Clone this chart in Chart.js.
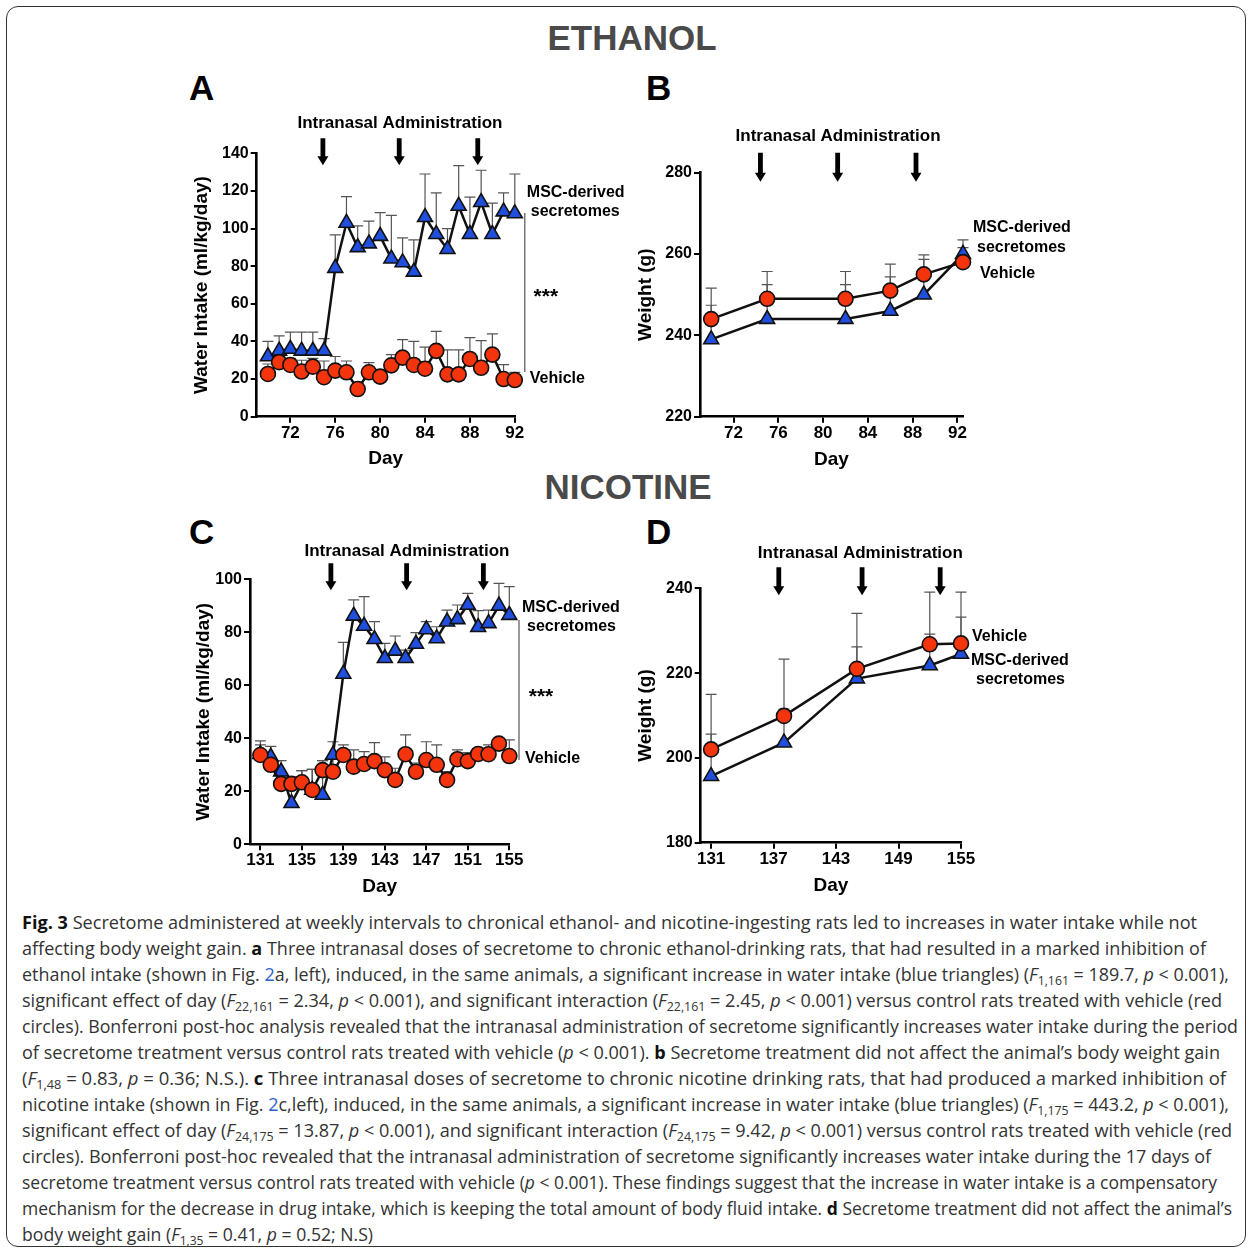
<!DOCTYPE html>
<html>
<head>
<meta charset="utf-8">
<script src="https://cdn.jsdelivr.net/npm/chart.js@4.4.1/dist/chart.umd.min.js"></script>
<style>
  html, body { margin:0; padding:0; background:#fff; }
  body { width:1250px; height:1251px; position:relative; overflow:hidden; font-family:"Liberation Sans", Arial, sans-serif; }
  .frame { position:absolute; left:6px; top:6px; width:1238px; height:1239px; border:1.5px solid #333; border-radius:12px; }
  .cv { position:absolute; }
  .big { position:absolute; font-weight:bold; color:#4a4a4a; font-size:35px; line-height:40px; text-align:center; width:600px; }
  .letter { position:absolute; font-weight:bold; color:#000; font-size:35px; line-height:40px; }
  .cap { position:absolute; left:22px; white-space:nowrap; font-family:"Open Sans", sans-serif; font-size:17.5px; line-height:26px; color:#333; transform-origin:0 50%; }
  .cap a { color:#2a62c9; text-decoration:none; }
  .cap sub { font-size:12px; vertical-align:-4px; line-height:0; }
  .cap b { font-weight:bold; color:#111; }
</style>
</head>
<body>
<div class="frame"></div>
<div class="big" style="left:332px;top:18px;">ETHANOL</div>
<div class="big" style="left:328px;top:467px;">NICOTINE</div>
<div class="letter" style="left:189px;top:68px;">A</div>
<div class="letter" style="left:646px;top:68px;">B</div>
<div class="letter" style="left:189px;top:512px;">C</div>
<div class="letter" style="left:646px;top:512px;">D</div>

<canvas id="cA" class="cv" style="left:186px;top:105px;" width="454" height="369"></canvas>
<canvas id="cB" class="cv" style="left:630px;top:115px;" width="460" height="360"></canvas>
<canvas id="cC" class="cv" style="left:188px;top:535px;" width="447" height="367"></canvas>
<canvas id="cD" class="cv" style="left:630px;top:535px;" width="460" height="366"></canvas>

<div id="caption">
<div class="cap" style="top:909px"><b>Fig. 3</b> Secretome administered at weekly intervals to chronical ethanol- and nicotine-ingesting rats led to increases in water intake while not</div>
<div class="cap" style="top:935px">affecting body weight gain. <b>a</b> Three intranasal doses of secretome to chronic ethanol-drinking rats, that had resulted in a marked inhibition of</div>
<div class="cap" style="top:961px">ethanol intake (shown in Fig. <a>2</a>a, left), induced, in the same animals, a significant increase in water intake (blue triangles) (<i>F</i><sub>1,161</sub> = 189.7, <i>p</i> &lt; 0.001),</div>
<div class="cap" style="top:987px">significant effect of day (<i>F</i><sub>22,161</sub> = 2.34, <i>p</i> &lt; 0.001), and significant interaction (<i>F</i><sub>22,161</sub> = 2.45, <i>p</i> &lt; 0.001) versus control rats treated with vehicle (red</div>
<div class="cap" style="top:1013px">circles). Bonferroni post-hoc analysis revealed that the intranasal administration of secretome significantly increases water intake during the period</div>
<div class="cap" style="top:1039px">of secretome treatment versus control rats treated with vehicle (<i>p</i> &lt; 0.001). <b>b</b> Secretome treatment did not affect the animal’s body weight gain</div>
<div class="cap" style="top:1065px">(<i>F</i><sub>1,48</sub> = 0.83, <i>p</i> = 0.36; N.S.). <b>c</b> Three intranasal doses of secretome to chronic nicotine drinking rats, that had produced a marked inhibition of</div>
<div class="cap" style="top:1091px">nicotine intake (shown in Fig. <a>2</a>c,left), induced, in the same animals, a significant increase in water intake (blue triangles) (<i>F</i><sub>1,175</sub> = 443.2, <i>p</i> &lt; 0.001),</div>
<div class="cap" style="top:1117px">significant effect of day (<i>F</i><sub>24,175</sub> = 13.87, <i>p</i> &lt; 0.001), and significant interaction (<i>F</i><sub>24,175</sub> = 9.42, <i>p</i> &lt; 0.001) versus control rats treated with vehicle (red</div>
<div class="cap" style="top:1143px">circles). Bonferroni post-hoc revealed that the intranasal administration of secretome significantly increases water intake during the 17 days of</div>
<div class="cap" style="top:1169px">secretome treatment versus control rats treated with vehicle (<i>p</i> &lt; 0.001). These findings suggest that the increase in water intake is a compensatory</div>
<div class="cap" style="top:1195px">mechanism for the decrease in drug intake, which is keeping the total amount of body fluid intake. <b>d</b> Secretome treatment did not affect the animal’s</div>
<div class="cap" style="top:1221px">body weight gain (<i>F</i><sub>1,35</sub> = 0.41, <i>p</i> = 0.52; N.S)</div>
</div>

<script>
// ---------------- DATA ----------------
// Panel A: ethanol, water intake
const ethWaterDays   = [70,71,72,73,74,75,76,77,78,79,80,81,82,83,84,85,86,87,88,89,90,91,92];
const ethWaterMSC    = [32,35,36,35,35,35,79,103,90,92,96,84,82,77,106,97,89,112,97,114,97,109,108];
const ethWaterMSCUp  = [40,43,45,45,45,41.5,96.6,117,101.4,104,108.5,107,95,94,129,119,100,133.5,116.7,131,113.5,119,129];
const ethWaterVeh    = [22.7,29,27.5,24,26.6,21,24.5,23.6,14.7,23.6,21.3,27.3,31.4,27.5,25.5,35,22.5,22.5,30.7,26,33,20,19.5];
const ethWaterVehUp  = [28,33,31,30,31,29.6,32,29.6,18,28.7,25,33,41,40,37,45.4,35.5,35.5,42,40.4,44,27.7,23.6];
const ethWaterXTicks = [72,76,80,84,88,92];
const ethWaterYTicks = [0,20,40,60,80,100,120,140];
const ethAdminDaysA  = [74.9,81.7,88.7];

// Panel B: ethanol, body weight
const ethWeightDays   = [70,75,82,86,89,92.5];
const ethWeightVeh    = [244,249,249,251,255,258];
const ethWeightVehUp  = [251.6,255.7,255.7,257.5,259.8,261.6];
const ethWeightMSC    = [239,244,244,246,250,260];
const ethWeightMSCUp  = [247.4,252.5,252.5,254.4,258.7,263.5];
const ethWeightXTicks = [72,76,80,84,88,92];
const ethWeightYTicks = [220,240,260,280];
const ethAdminDaysB   = [74.4,81.3,88.3];

// Panel C: nicotine, water intake
const nicWaterDays   = [131,132,133,134,135,136,137,138,139,140,141,142,143,144,145,146,147,148,149,150,151,152,153,154,155];
const nicWaterMSC    = [34,33,27.4,15.5,23,20.5,18.6,33.7,64.3,86.2,82.4,77.4,70.2,73,70.2,75.6,81.1,77.7,84,84.9,90.3,81.9,83.4,90,86.5];
const nicWaterMSCUp  = [39,37,31.6,22,27.8,28.3,31.6,38.7,76.2,92.2,93.5,84,75.8,78.6,73.3,79.9,84,82.1,88.4,90.3,94.7,88.2,88.4,98.5,97.2];
const nicWaterVeh    = [33.7,30,22.8,22.8,23.4,20.5,28,27.4,33.7,29.3,30.3,31.4,28,24.3,34,27.4,31.8,30,24.3,32.1,31.4,34.1,34,38,33.3];
const nicWaterVehUp  = [37.5,36.9,26,25.5,27.8,28.3,31.6,32,37.5,35.6,35,38.4,33,28.7,41.3,30.6,38.7,37.5,27.4,35.6,34.6,35,37.5,39.1,39.4];
const nicWaterXTicks = [131,135,139,143,147,151,155];
const nicWaterYTicks = [0,20,40,60,80,100];
const nicAdminDaysC  = [137.8,145.1,152.5];

// Panel D: nicotine, body weight
const nicWeightDays   = [131,138,145,152,155];
const nicWeightVeh    = [202,209.9,221,226.8,227];
const nicWeightVehUp  = [215,223.3,234.1,239.1,239.1];
const nicWeightMSC    = [195.7,203.6,218.7,221.8,224.5];
const nicWeightMSCUp  = [205.6,211.5,226.2,229.2,233.2];
const nicWeightXTicks = [131,137,143,149,155];
const nicWeightYTicks = [180,200,220,240];
const nicAdminDaysD   = [137.5,145.5,153.0];

// ---------------- STYLE ----------------
const FONT = '"Liberation Sans", Arial, sans-serif';
const RED = '#f4340c';
const BLUE = '#1f4fdc';
Chart.defaults.font.family = FONT;
Chart.defaults.color = '#000';

const pts = (xs, ys) => xs.map((x, i) => ({x: x, y: ys[i]}));

// error bars drawn behind markers
const errorBarPlugin = {
  id: 'errorBars',
  beforeDatasetsDraw(chart) {
    const ctx = chart.ctx, xs = chart.scales.x, ys = chart.scales.y;
    ctx.save();
    ctx.strokeStyle = '#555';
    ctx.lineWidth = 1.2;
    chart.data.datasets.forEach(ds => {
      if (!ds.upper) return;
      ds.data.forEach((p, i) => {
        const px = xs.getPixelForValue(p.x);
        const y0 = ys.getPixelForValue(p.y);
        const y1 = ys.getPixelForValue(ds.upper[i]);
        ctx.beginPath();
        ctx.moveTo(px, y0); ctx.lineTo(px, y1);
        ctx.moveTo(px - 5.5, y1); ctx.lineTo(px + 5.5, y1);
        ctx.stroke();
      });
    });
    ctx.restore();
  }
};

function notesPlugin(n) {
  return {
    id: 'notes',
    afterDraw(chart) {
      const ctx = chart.ctx, xs = chart.scales.x, ys = chart.scales.y, ca = chart.chartArea;
      ctx.save();
      const mean = n.arrows.reduce((a, b) => a + b, 0) / n.arrows.length;
      ctx.fillStyle = '#000';
      ctx.font = 'bold 17px ' + FONT;
      ctx.textAlign = 'center';
      ctx.textBaseline = 'middle';
      ctx.fillText('Intranasal Administration', xs.getPixelForValue(mean), ca.top + n.headY);
      n.arrows.forEach(d => {
        const x = xs.getPixelForValue(d);
        const t = ca.top + n.arrowTop, b = ca.top + n.arrowTip;
        const hw = 5.5, sw = 2.4, hl = 9;
        ctx.beginPath();
        ctx.moveTo(x - sw, t); ctx.lineTo(x + sw, t);
        ctx.lineTo(x + sw, b - hl); ctx.lineTo(x + hw, b - hl);
        ctx.lineTo(x, b); ctx.lineTo(x - hw, b - hl);
        ctx.lineTo(x - sw, b - hl); ctx.closePath();
        ctx.fill();
      });
      ctx.textAlign = 'left';
      ctx.font = 'bold 16px ' + FONT;
      n.labels.forEach(l => ctx.fillText(l.text, ca.right + l.dx, ys.getPixelForValue(l.y)));
      if (n.bracket) {
        ctx.strokeStyle = '#555';
        ctx.lineWidth = 1.2;
        const bx = ca.right + n.bracket.dx;
        ctx.beginPath();
        ctx.moveTo(bx, ys.getPixelForValue(n.bracket.y0));
        ctx.lineTo(bx, ys.getPixelForValue(n.bracket.y1));
        ctx.stroke();
        ctx.font = 'bold 21px ' + FONT;
        ctx.textAlign = 'center';
        ctx.fillText('***', ca.right + n.stars.dx, ys.getPixelForValue(n.stars.y) + 5);
      }
      ctx.restore();
    }
  };
}

function makeChart(id, c) {
  const tickFontX = {size: 17, weight: 'bold', family: FONT};
  const tickFontY = {size: 16, weight: 'bold', family: FONT};
  const titleFont = {size: 19, weight: 'bold', family: FONT};
  return new Chart(document.getElementById(id), {
    type: 'line',
    data: {
      datasets: [
        {label: 'Vehicle', data: pts(c.days, c.veh), upper: c.vehUp,
         borderColor: '#111', borderWidth: 2.5, tension: 0, clip: false,
         pointStyle: 'circle', pointRadius: 7.5, pointBackgroundColor: RED,
         pointBorderColor: '#111', pointBorderWidth: 1.6},
        {label: 'MSC-derived secretomes', data: pts(c.days, c.msc), upper: c.mscUp,
         borderColor: '#111', borderWidth: 2.5, tension: 0, clip: false,
         pointStyle: 'triangle', pointRadius: 8.6, pointBackgroundColor: BLUE,
         pointBorderColor: '#111', pointBorderWidth: 1.6}
      ]
    },
    options: {
      responsive: false, animation: false,
      events: [],
      layout: {padding: {left: 0, top: c.padTop, right: c.padRight, bottom: 0}},
      plugins: {legend: {display: false}, tooltip: {enabled: false}},
      scales: {
        x: {
          type: 'linear', min: c.xmin, max: c.xmax,
          afterBuildTicks: a => { a.ticks = c.xticks.map(v => ({value: v})); },
          afterFit: s => { s.height = c.xH; },
          grid: {drawOnChartArea: false, drawTicks: true, tickLength: 6, color: '#000', lineWidth: 2},
          border: {display: true, color: '#000', width: 2.6},
          ticks: {font: tickFontX, color: '#000', padding: 0, maxRotation: 0, autoSkip: false},
          title: {display: true, text: 'Day', font: titleFont, color: '#000', padding: {top: 4, bottom: 4}}
        },
        y: {
          type: 'linear', min: c.ymin, max: c.ymax,
          afterBuildTicks: a => { a.ticks = c.yticks.map(v => ({value: v})); },
          afterFit: s => { s.width = c.yW; },
          grid: {drawOnChartArea: false, drawTicks: true, tickLength: 6, color: '#000', lineWidth: 2},
          border: {display: true, color: '#000', width: 2.6},
          ticks: {font: tickFontY, color: '#000', padding: 2, autoSkip: false},
          title: {display: true, text: c.ytitle, font: titleFont, color: '#000', padding: {top: 4, bottom: 4}}
        }
      }
    },
    plugins: [errorBarPlugin, notesPlugin(c.notes)]
  });
}

makeChart('cA', {
  days: ethWaterDays, veh: ethWaterVeh, vehUp: ethWaterVehUp, msc: ethWaterMSC, mscUp: ethWaterMSCUp,
  xmin: 69, xmax: 92, ymin: 0, ymax: 140, xticks: ethWaterXTicks, yticks: ethWaterYTicks,
  ytitle: 'Water Intake (ml/kg/day)', yW: 70.7, xH: 57.3, padTop: 48.3, padRight: 125.2,
  notes: {arrows: ethAdminDaysA, headY: -30, arrowTop: -15, arrowTip: 12,
    labels: [{text: 'MSC-derived', dx: 12, y: 118.9}, {text: 'secretomes', dx: 16, y: 108.8}, {text: 'Vehicle', dx: 15, y: 20}],
    bracket: {dx: 10, y0: 108.3, y1: 23.8}, stars: {dx: 31, y: 66.3}}
});
makeChart('cB', {
  days: ethWeightDays, veh: ethWeightVeh, vehUp: ethWeightVehUp, msc: ethWeightMSC, mscUp: ethWeightMSCUp,
  xmin: 69, xmax: 92.5, ymin: 220, ymax: 280, xticks: ethWeightXTicks, yticks: ethWeightYTicks,
  ytitle: 'Weight (g)', yW: 70, xH: 58.3, padTop: 57.7, padRight: 127,
  notes: {arrows: ethAdminDaysB, headY: -36, arrowTop: -20, arrowTip: 9,
    labels: [{text: 'MSC-derived', dx: 10, y: 266.6}, {text: 'secretomes', dx: 14, y: 261.7}, {text: 'Vehicle', dx: 17, y: 255.1}]}
});
makeChart('cC', {
  days: nicWaterDays, veh: nicWaterVeh, vehUp: nicWaterVehUp, msc: nicWaterMSC, mscUp: nicWaterMSCUp,
  xmin: 130, xmax: 155, ymin: 0, ymax: 100, xticks: nicWaterXTicks, yticks: nicWaterYTicks,
  ytitle: 'Water Intake (ml/kg/day)', yW: 62, xH: 57.7, padTop: 44.3, padRight: 125.7,
  notes: {arrows: nicAdminDaysC, headY: -28, arrowTop: -16, arrowTip: 11,
    labels: [{text: 'MSC-derived', dx: 12.7, y: 89.2}, {text: 'secretomes', dx: 17.7, y: 82}, {text: 'Vehicle', dx: 15.7, y: 32.2}],
    bracket: {dx: 9.7, y0: 84.6, y1: 31.8}, stars: {dx: 31.7, y: 57.5}}
});
makeChart('cD', {
  days: nicWeightDays, veh: nicWeightVeh, vehUp: nicWeightVehUp, msc: nicWeightMSC, mscUp: nicWeightMSCUp,
  xmin: 130, xmax: 155, ymin: 180, ymax: 240, xticks: nicWeightXTicks, yticks: nicWeightYTicks,
  ytitle: 'Weight (g)', yW: 70.7, xH: 58.3, padTop: 53.3, padRight: 129,
  notes: {arrows: nicAdminDaysD, headY: -35, arrowTop: -21, arrowTip: 7,
    labels: [{text: 'Vehicle', dx: 11, y: 228.5}, {text: 'MSC-derived', dx: 10, y: 222.9}, {text: 'secretomes', dx: 15, y: 218.4}]}
});

// fit caption lines to the reference line lengths
const capRight = [1197,1206,1229,1222,1238,1220,1226,1229,1232,1211,1217,1232,373];
function fitCaption() {
  document.querySelectorAll('.cap').forEach((el, i) => {
    el.style.transform = 'none';
    const w = el.getBoundingClientRect().width;
    const target = capRight[i] - 22;
    el.style.transform = 'scaleX(' + (target / w) + ')';
  });
}
fitCaption();
if (document.fonts && document.fonts.ready) document.fonts.ready.then(fitCaption);
</script>
</body>
</html>
